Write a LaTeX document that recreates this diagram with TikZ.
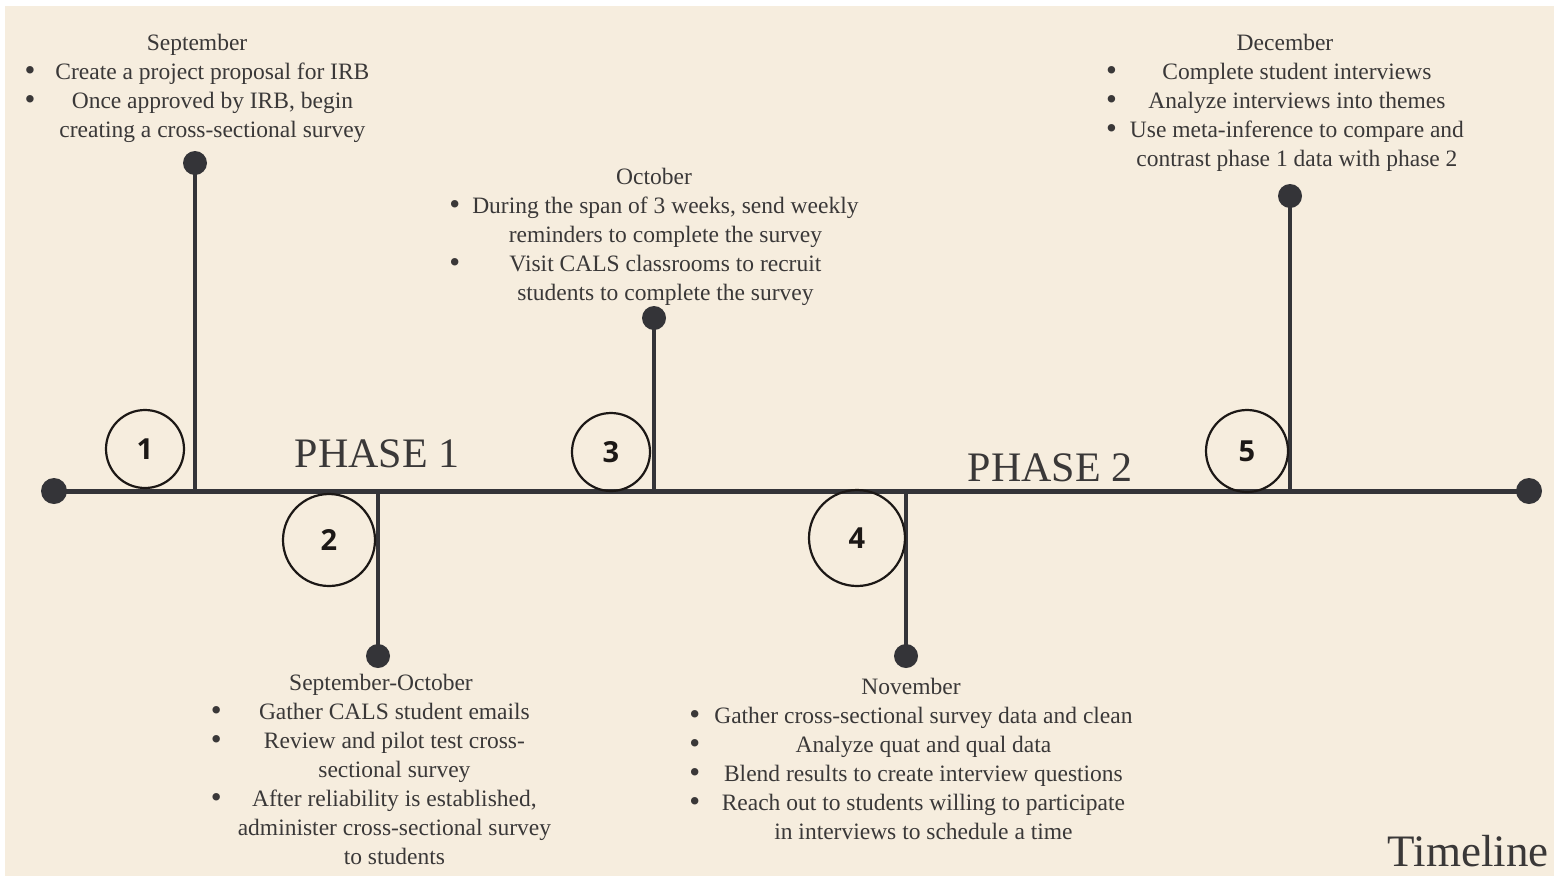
\documentclass[tikz,border=0pt]{standalone}
\usepackage{fontspec}
\setmainfont{Liberation Serif}
\newfontfamily\numfont{Open Sans}
\usepackage{array}

\definecolor{papercolor}{RGB}{246,237,222}
\definecolor{linecolor}{RGB}{52,52,56}
\definecolor{textcolor}{RGB}{58,56,56}
\definecolor{ringcolor}{RGB}{28,24,22}

\newlength{\du}
\setlength{\du}{1pt}
\newcommand{\itembullet}{\raisebox{-1.5pt}{\fontsize{31}{29}\selectfont\textbullet}}

\tikzset{
  axisline/.style={line width=5\du, draw=linecolor},
  stemline/.style={line width=4\du, draw=linecolor},
  enddot/.style={circle, fill=linecolor, inner sep=0pt, minimum size=26\du},
  stemdot/.style={circle, fill=linecolor, inner sep=0pt, minimum size=24\du},
  numring/.style={circle, draw=ringcolor, line width=2.2\du, inner sep=0pt,
    text=ringcolor, font=\numfont\bfseries\fontsize{29}{29}\selectfont},
  monthblock/.style={anchor=base, inner sep=0pt, text=textcolor,
    font=\fontsize{23.5}{29}\selectfont},
  phaselabel/.style={anchor=base, inner sep=0pt, text=textcolor,
    font=\fontsize{42}{42}\selectfont},
}

\begin{document}
\begin{tikzpicture}
\pgftransformyscale{-1.000000}
\useasboundingbox (0\du,0\du) rectangle (1554\du,876\du);
% paper
\fill[white] (0\du,0\du) rectangle (1554\du,876\du);
\fill[papercolor] (5\du,6\du) rectangle (1554\du,876\du);

% axis with its two end dots
\node[enddot] (lend) at (54\du,491\du) {};
\node[enddot] (rend) at (1529\du,491\du) {};
\draw[axisline] (lend.center) -- (rend.center);

% stems
\coordinate (b1) at (195\du,491\du);
\coordinate (b2) at (378\du,491\du);
\coordinate (b3) at (654\du,491\du);
\coordinate (b4) at (906\du,491\du);
\coordinate (b5) at (1290\du,491\du);
\node[stemdot] (d1) at (195\du,163\du) {};
\node[stemdot] (d2) at (378\du,656\du) {};
\node[stemdot] (d3) at (654\du,318\du) {};
\node[stemdot] (d4) at (906\du,656\du) {};
\node[stemdot] (d5) at (1290\du,196\du) {};
\draw[stemline] (b1) -- (d1.center);
\draw[stemline] (b2) -- (d2.center);
\draw[stemline] (b3) -- (d3.center);
\draw[stemline] (b4) -- (d4.center);
\draw[stemline] (b5) -- (d5.center);

% numbered rings
\node[numring, minimum size=78\du] (n1) at (145\du,449\du) {1};
\node[numring, minimum size=92\du] (n2) at (329\du,540\du) {2};
\node[numring, minimum size=78\du] (n3) at (611\du,452\du) {3};
\node[numring, minimum size=96\du] (n4) at (857\du,538\du) {4};
\node[numring, minimum size=82\du] (n5) at (1247\du,451\du) {5};

% phases and title
\node[phaselabel] (phase1) at (377\du,467\du) {PHASE 1};
\node[phaselabel] (phase2) at (1050\du,481\du) {PHASE 2};
\node[phaselabel, font=\fontsize{45}{45}\selectfont] (title) at (1468\du,866\du) {Timeline};

% month texts
\node[monthblock] (sep) at (197\du,50\du) {\begin{tabular}[t]{@{}c@{\hspace{20\du}}c@{}}
\multicolumn{2}{@{}c@{}}{September}\\
\itembullet & Create a project proposal for IRB\\
\itembullet & Once approved by IRB, begin\\
 & creating a cross-sectional survey
\end{tabular}};
\node[monthblock] (oct) at (654\du,184\du) {\begin{tabular}[t]{@{}c@{\hspace{12\du}}c@{}}
\multicolumn{2}{@{}c@{}}{October}\\
\itembullet & During the span of 3 weeks, send weekly\\
 & reminders to complete the survey\\
\itembullet & Visit CALS classrooms to recruit\\
 & students to complete the survey
\end{tabular}};
\node[monthblock] (sepoct) at (381\du,690\du) {\begin{tabular}[t]{@{}c@{\hspace{16\du}}c@{}}
\multicolumn{2}{@{}c@{}}{September-October}\\
\itembullet & Gather CALS student emails\\
\itembullet & Review and pilot test cross-\\
 & sectional survey\\
\itembullet & After reliability is established,\\
 & administer cross-sectional survey\\
 & to students
\end{tabular}};
\node[monthblock] (nov) at (911\du,694\du) {\begin{tabular}[t]{@{}c@{\hspace{14\du}}c@{}}
\multicolumn{2}{@{}c@{}}{November}\\
\itembullet & Gather cross-sectional survey data and clean\\
\itembullet & Analyze quat and qual data\\
\itembullet & Blend results to create interview questions\\
\itembullet & Reach out to students willing to participate\\
 & in interviews to schedule a time
\end{tabular}};
\node[monthblock] (dec) at (1285\du,50\du) {\begin{tabular}[t]{@{}c@{\hspace{13\du}}c@{}}
\multicolumn{2}{@{}c@{}}{December}\\
\itembullet & Complete student interviews\\
\itembullet & Analyze interviews into themes\\
\itembullet & Use meta-inference to compare and\\
 & contrast phase 1 data with phase 2
\end{tabular}};
\end{tikzpicture}
\end{document}
